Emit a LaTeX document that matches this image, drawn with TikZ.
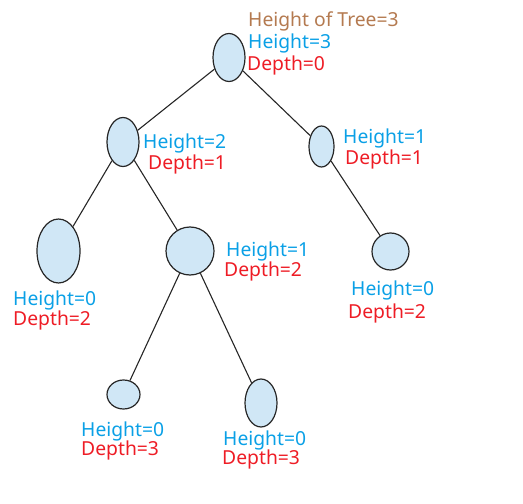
\documentclass[tikz,border=0pt]{standalone}
\usepackage{fontspec}
\setmainfont{Noto Sans}
\usetikzlibrary{shapes.geometric}
\definecolor{hblue}{HTML}{0AA0E6}
\definecolor{dred}{HTML}{EE1C25}
\definecolor{tbrown}{HTML}{B47A50}
\definecolor{nfill}{HTML}{D0E7F6}
\tikzset{
  tnode/.style={ellipse, draw=black!85, line width=1.2bp, fill=nfill, inner sep=0pt},
  lab/.style={anchor=base west, inner sep=0pt, font=\fontsize{19.3bp}{21bp}\selectfont},
  hl/.style={lab, text=hblue},
  dl/.style={lab, text=dred},
  edge/.style={line width=1.1bp, black!85}
}
\begin{document}
\begin{tikzpicture}[x=1bp,y=-1bp]
\useasboundingbox (0,0) rectangle (523,504);
% nodes
\node[tnode, minimum width=32bp, minimum height=48bp] (r) at (229,57.5) {};
\node[tnode, minimum width=32bp, minimum height=49bp] (a) at (123,142) {};
\node[tnode, minimum width=25bp, minimum height=41bp] (b) at (321.5,146.5) {};
\node[tnode, minimum width=43bp, minimum height=64bp] (c) at (58.5,251) {};
\node[tnode, minimum width=48bp, minimum height=48bp] (d) at (190,251) {};
\node[tnode, minimum width=37bp, minimum height=37bp] (e) at (390.5,251.5) {};
\node[tnode, minimum width=33bp, minimum height=29bp] (f) at (123.5,394.5) {};
\node[tnode, minimum width=32bp, minimum height=48bp] (g) at (261,403) {};
% edges
\draw[edge] (r) -- (a);
\draw[edge] (r) -- (b);
\draw[edge] (a) -- (c);
\draw[edge] (a) -- (d);
\draw[edge] (b) -- (e);
\draw[edge] (d) -- (f);
\draw[edge] (d) -- (g);
% labels
\node[lab, text=tbrown] (tt) at (248,27) {Height of Tree=3};
\node[hl] (rh) at (248,49) {Height=3};
\node[dl] (rd) at (247,71) {Depth=0};
\node[hl] (ah) at (143,149) {Height=2};
\node[dl] (ad) at (148,170) {Depth=1};
\node[hl] (bh) at (343,144) {Height=1};
\node[dl] (bd) at (345,165) {Depth=1};
\node[hl] (dh) at (226,256) {Height=1};
\node[dl] (dd) at (224,276) {Depth=2};
\node[hl] (ch) at (13,305) {Height=0};
\node[dl] (cd) at (13,325) {Depth=2};
\node[hl] (eh) at (351,295) {Height=0};
\node[dl] (ed) at (348,318) {Depth=2};
\node[hl] (fh) at (81,436) {Height=0};
\node[dl] (fd) at (81,455) {Depth=3};
\node[hl] (gh) at (223,445) {Height=0};
\node[dl] (gd) at (222,464) {Depth=3};
\end{tikzpicture}
\end{document}
